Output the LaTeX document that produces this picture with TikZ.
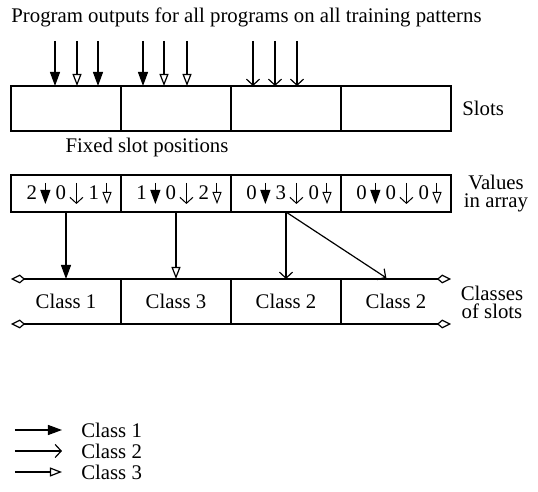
\documentclass[tikz,border=0pt]{standalone}
\usepackage{fontspec}
\setmainfont{Liberation Serif}
\usetikzlibrary{arrows.meta, positioning, calc}

\tikzset{
 cell/.style={draw, line width=0.6pt, minimum width=55pt, inner sep=0pt, outer sep=0pt},
 clscell/.style={minimum width=55pt, minimum height=22.5pt, inner sep=0pt, outer sep=0pt},
 cls1/.style={-{Triangle[length=7pt,width=5pt]}},
 cls2/.style={-{Straight Barb[length=3pt,width=6.5pt]}},
 cls3/.style={-{Triangle[open,length=6pt,width=4.5pt]}},
 ends/.style={{Kite[open,length=7pt,width=4.5pt,inset=2.6pt]}-{Kite[open,length=7pt,width=4.5pt,inset=2.6pt]}},
}
% small arrow inside the array cells
\newcommand{\mtip}[1]{\tikz[x=1pt,y=1pt,baseline=0pt]\draw[line width=0.5pt,#1] (0,8.5) -- (0,-2);}

\begin{document}
\begin{tikzpicture}[x=0.5pt,y=-0.5pt,font=\fontsize{10.4}{12}\selectfont,line width=0.6pt]
 \useasboundingbox (0,0) rectangle (538,492);

 \node (title) at (246.5,17) {Program outputs for all programs on all training patterns};

 %slots:
 \node[cell, minimum height=22.5pt] (s1) at (66,108.5) {};
 \node[cell, minimum height=22.5pt, right=0pt of s1] (s2) {};
 \node[cell, minimum height=22.5pt, right=0pt of s2] (s3) {};
 \node[cell, minimum height=22.5pt, right=0pt of s3] (s4) {};
 \node[anchor=west] (slotlab) at ([xshift=2pt]s4.east) {Slots};

 \foreach \x in {55,98,143} \draw[cls1] (\x,41) -- (\x,41 |- s1.north);
 \foreach \x in {77,164,187} \draw[cls3] (\x,41) -- (\x,41 |- s1.north);
 \foreach \x in {253,275,297} \draw[cls2] (\x,41) -- (\x,41 |- s1.north);

 \node (fixed) at (147,148) {Fixed slot positions};

 %values in array:
 \node[cell, minimum height=18.5pt] (v1) at (66,193.5) {\hspace{3pt}2\,\mtip{cls1}\ 0\,\mtip{cls2}\ 1\,\mtip{cls3}};
 \node[cell, minimum height=18.5pt, right=0pt of v1] (v2) {\hspace{3pt}1\,\mtip{cls1}\ 0\,\mtip{cls2}\ 2\,\mtip{cls3}};
 \node[cell, minimum height=18.5pt, right=0pt of v2] (v3) {\hspace{3pt}0\,\mtip{cls1}\ 3\,\mtip{cls2}\ 0\,\mtip{cls3}};
 \node[cell, minimum height=18.5pt, right=0pt of v3] (v4) {\hspace{3pt}0\,\mtip{cls1}\ 0\,\mtip{cls2}\ 0\,\mtip{cls3}};
 \node[align=center, font=\fontsize{10.4}{9}\selectfont] (vallab) at (496,194) {Values\\in array};

 %classes:
 \node[clscell] (c1) at (66,301.5) {Class 1};
 \node[clscell, right=0pt of c1] (c2) {Class 3};
 \node[clscell, right=0pt of c2] (c3) {Class 2};
 \node[clscell, right=0pt of c3] (c4) {Class 2};
 \draw[ends] (c1.north west) -- (c4.north east);
 \draw[ends] (c1.south west) -- (c4.south east);
 \foreach \c in {c1,c2,c3} \draw (\c.north east) -- (\c.south east);
 \node[align=center, font=\fontsize{10.4}{9}\selectfont] (clslab) at (492,302) {Classes\\of slots};

 \draw[cls1] (v1.south) -- (c1.north);
 \draw[cls3] (v2.south) -- (c2.north);
 \draw[cls2] (v3.south) -- (c3.north);
 \draw[cls2, shorten >=1pt] (v3.south) -- ([xshift=-4pt]c4.north);

 %legend:
 \coordinate (l1) at (15,430);
 \coordinate (l2) at (15,451);
 \coordinate (l3) at (15,472);
 \draw[cls1] (l1) -- ++(47,0) node[right=6pt] (k1) {Class 1};
 \draw[cls2] (l2) -- ++(47,0) node[right=6pt] (k2) {Class 2};
 \draw[cls3] (l3) -- ++(47,0) node[right=6pt] (k3) {Class 3};
\end{tikzpicture}
\end{document}
